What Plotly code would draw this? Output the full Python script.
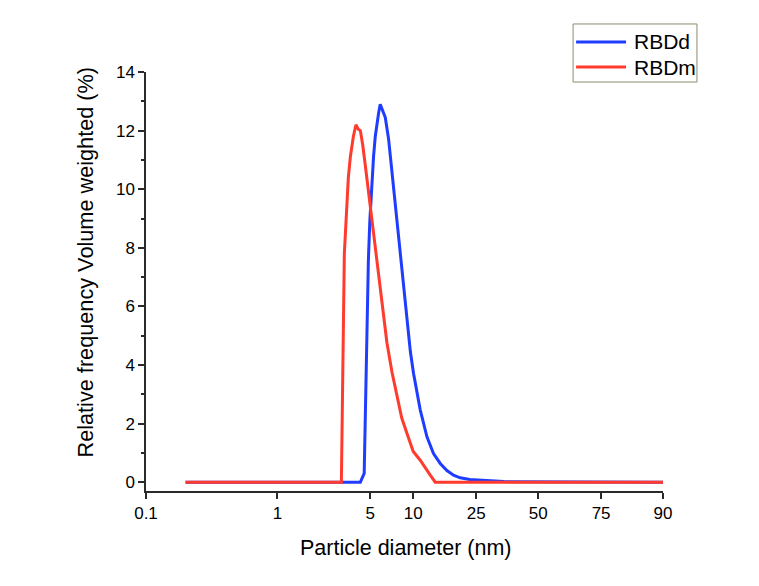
import numpy as np
import plotly.graph_objects as go

# Tick labels (nm) and their positions along the (non-uniform) x axis
TICK_LABELS = [0.1, 1, 5, 10, 25, 50, 75, 90]
TICK_POS = [0, 1, 1.707, 2.034, 2.513, 2.985, 3.464, 3.935]

# RBDd (blue)
rbdd_x = [0.2, 4.21, 4.50, 4.60, 4.72, 4.84, 4.96, 5.1, 5.27, 5.42, 5.57, 5.72, 5.87,
          6.05, 6.37, 6.72, 7.28, 7.7, 8.11, 8.6, 9.03, 9.55, 10.04, 11.07, 12.21,
          13.43, 14.81, 16.33, 17.97, 19.81, 22.75, 28.4, 34, 90]
rbdd_y = [0, 0, 0.3, 2.5, 5.4, 7.6, 8.9, 10.0, 11.1, 11.8, 12.28, 12.6, 12.9,
          12.72, 12.45, 11.71, 10.0, 8.9, 7.72, 6.5, 5.43, 4.45, 3.72, 2.47, 1.55,
          0.98, 0.64, 0.4, 0.24, 0.15, 0.09, 0.05, 0.02, 0]

# RBDm (red)
rbdm_x = [0.2, 3.03, 3.19, 3.30, 3.42, 3.54, 3.73, 3.90, 4.06, 4.21, 4.39, 4.59, 4.79,
          5.0, 5.35, 5.72, 6.15, 6.54, 7.1, 7.69, 8.3, 9.03, 10.0, 11.07, 12.0, 12.81,
          13.77, 90]
rbdm_y = [0, 0, 7.8, 9.3, 10.4, 11.1, 11.8, 12.2, 12.05, 12.0, 11.5, 10.8, 10.1,
          9.43, 8.2, 7.03, 5.75, 4.76, 3.75, 2.92, 2.2, 1.67, 1.05, 0.75, 0.45, 0.24,
          0, 0]

Y_TICKS = [0, 2, 4, 6, 8, 10, 12, 14]
SERIES_NAMES = ["RBDd", "RBDm"]
SERIES_COLORS = ["#1f3dff", "#ff3b2e"]


def to_axis(x):
    return np.interp(np.log10(np.asarray(x, dtype=float)),
                     np.log10(TICK_LABELS), TICK_POS)


FONT = "Liberation Sans, Arial, sans-serif"
AXIS_COLOR = "#2a2a2a"

fig = go.Figure()
for name, color, xs, ys in zip(SERIES_NAMES, SERIES_COLORS,
                               [rbdd_x, rbdm_x], [rbdd_y, rbdm_y]):
    fig.add_trace(go.Scatter(x=to_axis(xs), y=ys, mode="lines", name=name,
                             line=dict(color=color, width=3)))

# Legend box drawn in paper coordinates (layout element, not data)
shapes = [dict(type="rect", xref="paper", yref="paper",
               x0=0.8261, x1=1.0657, y0=0.9761, y1=1.1146,
               line=dict(color="#8c8c6e", width=1), fillcolor="white", layer="above")]
annotations = []
for i, (name, color) in enumerate(zip(SERIES_NAMES, SERIES_COLORS)):
    yy = 1.0716 - i * 0.0597
    shapes.append(dict(type="line", xref="paper", yref="paper",
                       x0=0.8319, x1=0.9285, y0=yy, y1=yy,
                       line=dict(color=color, width=3), layer="above"))
    annotations.append(dict(text=name, xref="paper", yref="paper", x=0.9401, y=yy,
                            xanchor="left", yanchor="middle", showarrow=False,
                            font=dict(size=21, family=FONT)))

annotations += [
    dict(text="Relative frequency Volume weighted (%)", textangle=-90,
         xref="paper", yref="paper", x=-0.117, y=0.5465,
         xanchor="center", yanchor="middle", showarrow=False,
         font=dict(size=21.7, family=FONT)),
    dict(text="Particle diameter (nm)",
         xref="paper", yref="paper", x=0.5014, y=-0.136,
         xanchor="center", yanchor="middle", showarrow=False,
         font=dict(size=21.5, family=FONT)),
]

fig.update_layout(
    width=759, height=586,
    margin=dict(l=137.5, r=104, t=64, b=103),
    paper_bgcolor="white", plot_bgcolor="white",
    font=dict(family=FONT, color="black", size=17),
    showlegend=False,
    shapes=shapes,
    annotations=annotations,
)

fig.update_xaxes(range=[0, TICK_POS[-1]], tickmode="array", tickvals=TICK_POS,
                 ticktext=[str(t) for t in TICK_LABELS], showgrid=False,
                 zeroline=False, showline=True, linecolor=AXIS_COLOR, linewidth=1.5,
                 ticks="outside", ticklen=6, tickwidth=1.5, tickcolor=AXIS_COLOR)
fig.update_yaxes(range=[-0.3, 14], tickmode="array", tickvals=Y_TICKS,
                 showgrid=False, zeroline=False, showline=True,
                 linecolor=AXIS_COLOR, linewidth=1.5,
                 ticks="outside", ticklen=6, tickwidth=1.5, tickcolor=AXIS_COLOR,
                 minor=dict(tickvals=[1, 3, 5, 7, 9, 11, 13], ticks="outside",
                            ticklen=3, tickwidth=1.5, tickcolor=AXIS_COLOR))

fig.write_html("out.html")
